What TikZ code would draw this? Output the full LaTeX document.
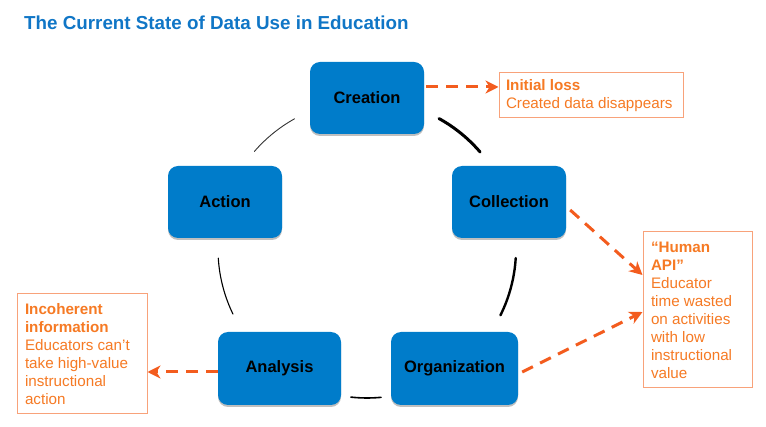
\documentclass[tikz,border=0pt]{standalone}
\usepackage{fontspec}
\setmainfont{Liberation Sans}
\usetikzlibrary{arrows.meta,shadows}
\definecolor{boxblue}{RGB}{0,124,202}
\definecolor{titleblue}{RGB}{16,118,198}
\definecolor{noteorange}{RGB}{246,122,36}
\definecolor{arroworange}{RGB}{243,92,30}
\definecolor{noteline}{RGB}{248,162,122}
\begin{document}
\begin{tikzpicture}[
        x=1pt, y=-1pt,
        stage/.style={rectangle, rounded corners=10pt, fill=boxblue, text=black,
            font=\fontsize{16.5}{19}\selectfont\bfseries,
            drop shadow={shadow xshift=0pt, shadow yshift=-2pt, opacity=.25, fill=black}},
        note/.style={rectangle, draw=noteline, line width=1pt, fill=white, text=noteorange,
            align=flush left, inner xsep=8pt, inner ysep=0pt,
            font=\fontsize{15.2}{18}\selectfont},
        loss/.style={arroworange, line width=3pt, dash pattern=on 12pt off 8pt,
            -{Stealth[length=13pt, width=13pt, inset=4pt]}},
        ring/.style={black, line cap=round}
    ]
        \useasboundingbox (0,0) rectangle (766,427);

        % Tiêu đề
        \node[anchor=base west, text=titleblue, inner sep=0pt,
            font=\fontsize{18.8}{22}\selectfont\bfseries] (title) at (24,29.3)
            {The Current State of Data Use in Education};

        % Các bước của chu trình
        \node[stage, minimum width=114pt, minimum height=72pt] (creation) at (367,98) {Creation};
        \node[stage, minimum width=114pt, minimum height=72pt] (collection) at (509,202) {Collection};
        \node[stage, minimum width=127pt, minimum height=73pt] (organization) at (454.5,368.5) {Organization};
        \node[stage, minimum width=123pt, minimum height=73pt] (analysis) at (279.5,368.5) {Analysis};
        \node[stage, minimum width=114pt, minimum height=72pt] (action) at (225,202) {Action};

        % Các ghi chú
        \node[note, inner xsep=7pt, text width=170pt, minimum height=45pt] (initial) at (591,95.5)
            {\textbf{Initial loss}\\Created data disappears};
        \node[note, text width=93pt, minimum height=156pt] (humanapi) at (697.5,310)
            {\textbf{“Human}\\\textbf{API”}\\Educator\\time wasted\\on activities\\with low\\instructional\\value};
        \node[note, text width=114pt, minimum height=120pt] (incoherent) at (82,354)
            {\textbf{Incoherent}\\\textbf{information}\\Educators can’t\\take high-value\\instructional\\action};

        % Vòng tròn nối các bước
        \coordinate (hub) at (367,249);
        \draw[ring, line width=3pt] (hub) ++(-61.1:149) arc[start angle=-61.1, end angle=-40.6, radius=149];
        \draw[ring, line width=2.4pt] (hub) ++(3.5:149) arc[start angle=3.5, end angle=26.4, radius=149];
        \draw[ring, line width=1.6pt] (hub) ++(84.6:149) arc[start angle=84.6, end angle=96.2, radius=149];
        \draw[ring, line width=1.1pt] (hub) ++(154.1:149) arc[start angle=154.1, end angle=176.5, radius=149];
        \draw[ring, line width=.9pt, black!80] (hub) ++(220.9:149) arc[start angle=220.9, end angle=240.9, radius=149];

        % Mũi tên tới ghi chú
        \draw[loss] ([xshift=2pt, yshift=11pt]creation.east) -- ([yshift=8.5pt]initial.west);
        \draw[loss] ([xshift=4pt, yshift=-8pt]collection.east) -- ([yshift=35pt]humanapi.west);
        \draw[loss] ([xshift=4pt, yshift=-3.5pt]organization.east) -- ([yshift=-2pt]humanapi.west);
        \draw[loss] ([yshift=-3.5pt]analysis.west) -- ([yshift=-18pt]incoherent.east);
    \end{tikzpicture}
\end{document}
